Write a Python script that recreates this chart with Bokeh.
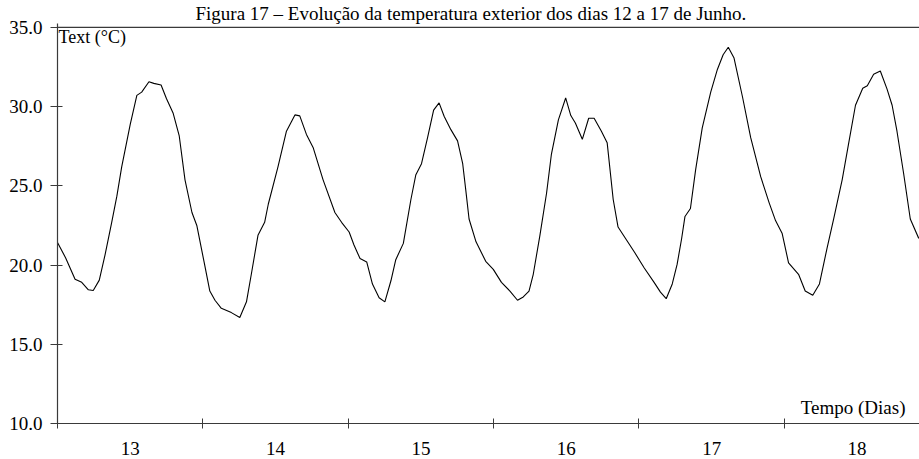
from bokeh.plotting import figure
from bokeh.models import FixedTicker, Label, LinearAxis, Range1d, PrintfTickFormatter
from bokeh.embed import file_html
from bokeh.resources import INLINE

# Outdoor temperature, hours counted from midnight of day 13
hours = [
    0.0, 1.35, 2.9, 4.0, 5.1, 5.9, 6.9, 7.85, 8.95, 9.8, 10.6, 12.0, 13.1, 13.9,
    15.1, 15.9, 17.1, 18.0, 19.1, 20.1, 21.05, 22.2, 23.0,
    24.2, 25.15, 26.0, 27.05, 28.7, 30.1, 31.2, 32.0, 33.1, 34.2, 34.8, 36.4,
    37.8, 39.2, 40.0, 41.1, 42.2, 43.85, 45.8, 46.9,
    48.15, 48.95, 49.95, 51.05, 52.0, 53.1, 54.05, 55.05, 55.85, 57.1, 58.35,
    59.15, 60.1, 61.1, 62.1, 63.0, 63.85, 64.95, 66.05, 66.9, 67.4, 67.95,
    69.1, 70.7,
    71.95, 73.3, 74.7, 75.95, 76.9, 77.85, 78.55, 79.65, 80.75, 81.55, 82.7,
    83.9, 84.75, 85.5, 86.65, 87.7, 88.6, 89.8, 90.75, 91.75, 92.55, 93.95,
    95.35,
    96.85, 98.5, 99.55, 100.5, 101.5, 102.3, 103.05, 103.6, 104.5, 105.35,
    106.45, 107.85, 108.95, 109.9, 110.75, 111.7, 113.1, 114.45, 116.1,
    117.5, 118.55, 119.65,
    120.7, 122.35, 123.45, 124.7, 125.8, 127.05, 128.15, 129.55, 130.6,
    131.75, 132.95, 133.7, 134.75, 135.85, 136.95, 137.8, 138.6, 139.7,
    140.8, 142.2,
]
temp = [
    21.43, 20.45, 19.11, 18.91, 18.44, 18.40, 19.05, 20.65, 22.7, 24.35, 26.2,
    28.86, 30.71, 30.92, 31.57, 31.47, 31.37, 30.5, 29.58, 28.15, 25.38,
    23.32, 22.5,
    20.2, 18.36, 17.78, 17.27, 17.0, 16.69, 17.68, 19.42, 21.88, 22.7, 23.84,
    26.2, 28.45, 29.48, 29.42, 28.25, 27.43, 25.38, 23.32, 22.7,
    22.09, 21.27, 20.41, 20.2, 18.8, 17.94, 17.68, 19.01, 20.34, 21.37, 24.14,
    25.68, 26.4, 28.04, 29.78, 30.24, 29.38, 28.55, 27.84, 26.4, 24.76, 22.91,
    21.47, 20.24,
    19.73, 18.91, 18.36, 17.78, 17.99, 18.36, 19.42, 21.88, 24.55, 27.01,
    29.17, 30.55, 29.44, 28.97, 27.94, 29.27, 29.27, 28.45, 27.73, 24.14,
    22.4, 21.58, 20.76,
    19.83, 18.91, 18.29, 17.88, 18.81, 20.04, 21.68, 23.07, 23.57, 25.99,
    28.66, 30.92, 32.35, 33.28, 33.75, 33.07, 30.61, 28.04, 25.58, 23.93,
    22.81, 21.99,
    20.14, 19.42, 18.36, 18.09, 18.81, 21.06, 22.91, 25.38, 27.63, 30.09,
    31.16, 31.32, 32.04, 32.25, 31.12, 30.09, 28.45, 25.78, 22.91, 21.68,
]

day_ticks = [13, 14, 15, 16, 17, 18]
day_bounds = [12.5, 13.5, 14.5, 15.5, 16.5, 17.5]
temp_ticks = [10, 15, 20, 25, 30, 35]

title_text = "Figura 17 – Evolução da temperatura exterior dos dias 12 a 17 de Junho."
y_label = "Text (°C)"
x_label = "Tempo (Dias)"

FONT = "Liberation Serif"
AXIS_COLOR = "#3a3a3a"

# day axis: each day is centred on its label, ticks mark midnight
days = [12.5 + h / 24.0 for h in hours]
x_start, x_end = day_bounds[0], 18.43

p = figure(
    width=919, height=459,
    x_range=Range1d(x_start, x_end), y_range=Range1d(10, 35.25),
    output_backend="svg", toolbar_location=None,
    x_axis_location=None, y_axis_location=None,
    min_border_left=57, min_border_right=0, min_border_top=0, min_border_bottom=36,
)
p.outline_line_color = None
p.xgrid.visible = False
p.ygrid.visible = False
p.background_fill_color = "white"
p.border_fill_color = "white"

p.title.text = title_text
p.title.text_font = FONT
p.title.text_font_size = "19px"
p.title.text_font_style = "normal"
p.title.text_color = "black"
p.title.align = "left"
p.title.offset = 138
p.title.standoff = 0

# bottom axis: labels at day centres, tick crosses at midnight
xaxis = LinearAxis(ticker=FixedTicker(ticks=day_ticks, minor_ticks=day_bounds))
xaxis.major_tick_in = 0
xaxis.major_tick_out = 0
xaxis.minor_tick_in = 5
xaxis.minor_tick_out = 5
xaxis.minor_tick_line_color = AXIS_COLOR
xaxis.axis_line_color = AXIS_COLOR
xaxis.axis_line_width = 1.2
xaxis.major_label_standoff = 13
xaxis.major_label_text_font = FONT
xaxis.major_label_text_font_size = "19px"
xaxis.major_label_text_color = "black"
p.add_layout(xaxis, "below")

# left axis: temperatures with crossing ticks
yaxis = LinearAxis(ticker=FixedTicker(ticks=temp_ticks),
                   formatter=PrintfTickFormatter(format="%.1f"))
yaxis.major_tick_in = 5
yaxis.major_tick_out = 7
yaxis.minor_tick_in = 0
yaxis.minor_tick_out = 0
yaxis.major_tick_line_color = AXIS_COLOR
yaxis.axis_line_color = AXIS_COLOR
yaxis.axis_line_width = 1.2
yaxis.major_label_standoff = 8
yaxis.major_label_text_font = FONT
yaxis.major_label_text_font_size = "19px"
yaxis.major_label_text_color = "black"
p.add_layout(yaxis, "left")

# top border line of the plot area, at the highest temperature tick
p.line([x_start, x_end], [temp_ticks[-1], temp_ticks[-1]],
       line_color=AXIS_COLOR, line_width=1.3)

p.line(days, temp, line_color="black", line_width=1.1)

p.add_layout(Label(x=1, y=387, x_units="screen", y_units="screen", text=y_label,
                   text_font=FONT, text_font_size="18px", text_color="black",
                   text_baseline="alphabetic"))
p.add_layout(Label(x=848, y=16, x_units="screen", y_units="screen", text=x_label,
                   text_font=FONT, text_font_size="19px", text_color="black",
                   text_align="right", text_baseline="alphabetic"))

open("out.html", "w").write(file_html(p, INLINE))
